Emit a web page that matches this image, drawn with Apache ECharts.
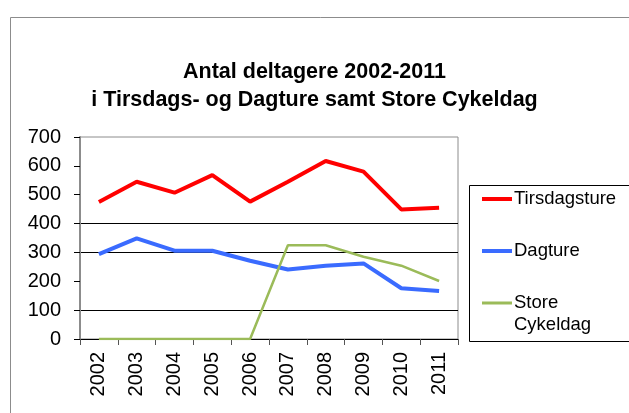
<!DOCTYPE html>
<html>
<head>
<meta charset="utf-8">
<script src="https://cdn.jsdelivr.net/npm/echarts@6/dist/echarts.min.js"></script>
<style>
  html, body { margin: 0; padding: 0; background: #fff; }
  #chart { width: 629px; height: 413px; }
</style>
</head>
<body>
<div id="chart"></div>
<script>
const years = ['2002','2003','2004','2005','2006','2007','2008','2009','2010','2011']
const tirsdagsture = [475, 545, 507, 568, 476, 545, 617, 580, 449, 455]
const dagture = [294, 349, 306, 306, 271, 241, 254, 262, 176, 166]
const storeCykeldag = [0, 0, 0, 0, 0, 325, 325, 285, 254, 201]

const FONT = 'Liberation Sans, Arial, sans-serif'
const legendText = { fontFamily: FONT, fontSize: 18.5, color: '#000', lineHeight: 22, padding: [0, 0, 0, -3] }

const chart = echarts.init(document.getElementById('chart'), null, { renderer: 'canvas' })

chart.setOption({
  backgroundColor: '#ffffff',
  animation: false,
  title: {
    text: 'Antal deltagere 2002-2011\ni Tirsdags- og Dagture samt Store Cykeldag',
    left: 'center',
    top: 58,
    padding: 0,
    textStyle: { fontFamily: FONT, fontSize: 21.5, fontWeight: 'bold', color: '#000', lineHeight: 28 },
  },
  graphic: [
    // outer chart border
    { type: 'rect', left: 8, top: 15, shape: { width: 700, height: 500 },
      style: { fill: 'none', stroke: '#8c8c8c', lineWidth: 1 }, silent: true },
    // legend box
    { type: 'rect', left: 467, top: 183, shape: { width: 200, height: 156 },
      style: { fill: 'none', stroke: '#000', lineWidth: 1 }, silent: true },
  ],
  legend: [
    {
      data: ['Tirsdagsture'], left: 482, top: 188, padding: 0, selectedMode: false,
      icon: 'rect', itemWidth: 30, itemHeight: 4, itemGap: 0, textStyle: legendText,
    },
    {
      data: ['Dagture'], left: 482, top: 240, padding: 0, selectedMode: false,
      icon: 'rect', itemWidth: 30, itemHeight: 4, itemGap: 0, textStyle: legendText,
    },
    {
      // leading blank line puts "Store" level with the icon, as in the original
      data: ['Store Cykeldag'], left: 482, top: 270, padding: 0, selectedMode: false,
      icon: 'rect', itemWidth: 30, itemHeight: 3, itemGap: 0,
      formatter: () => '\nStore\nCykeldag', textStyle: legendText,
    },
  ],
  grid: { left: 80, right: 171, top: 137, bottom: 74, show: true, borderColor: '#8c8c8c', borderWidth: 1 },
  xAxis: {
    type: 'category',
    data: years,
    boundaryGap: true,
    axisLine: { lineStyle: { color: '#000', width: 1 } },
    axisTick: { show: true, interval: 0, length: 6, lineStyle: { color: '#555' } },
    axisLabel: { rotate: 90, interval: 0, margin: 13, fontFamily: FONT, fontSize: 20, color: '#000' },
  },
  yAxis: {
    type: 'value',
    min: 0,
    max: 700,
    interval: 100,
    axisLine: { show: true, lineStyle: { color: '#8c8c8c', width: 2 } },
    axisTick: { show: true, length: 6, lineStyle: { color: '#000' } },
    axisLabel: { margin: 19, fontFamily: FONT, fontSize: 20, color: '#000' },
    splitLine: {
      show: true,
      lineStyle: {
        color: ['transparent', '#000', 'transparent', '#000', '#000', 'transparent', 'transparent', 'transparent'],
        width: 1,
      },
    },
  },
  series: [
    {
      name: 'Tirsdagsture', type: 'line', data: tirsdagsture, symbol: 'none',
      lineStyle: { color: '#ff0000', width: 4 }, itemStyle: { color: '#ff0000' },
    },
    {
      name: 'Dagture', type: 'line', data: dagture, symbol: 'none',
      lineStyle: { color: '#3a6bff', width: 4 }, itemStyle: { color: '#3a6bff' },
    },
    {
      name: 'Store Cykeldag', type: 'line', data: storeCykeldag, symbol: 'none',
      lineStyle: { color: '#9bbb59', width: 2.5 }, itemStyle: { color: '#9bbb59' },
    },
  ],
})
</script>
</body>
</html>
